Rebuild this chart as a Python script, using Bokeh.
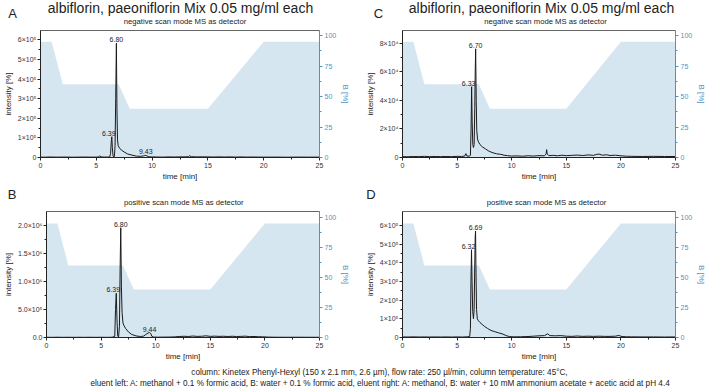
from bokeh.plotting import figure
from bokeh.models import Range1d, LinearAxis, Label, FixedTicker, ColumnDataSource
from bokeh.layouts import column, row
from bokeh.embed import file_html
from bokeh.resources import INLINE
from bokeh.core.properties import value

FONT = "Liberation Sans"
BLUE = "#4f93c4"
FILL = "#d6e6f1"
INK = "#222222"

# ---------------- data ----------------
main_title = "albiflorin, paeoniflorin Mix 0.05 mg/ml each"
sub_neg = "negative scan mode MS as detector"
sub_pos = "positive scan mode MS as detector"
footer_1 = "column: Kinetex Phenyl-Hexyl (150 x 2.1 mm, 2.6 \u00b5m), flow rate: 250 \u00b5l/min, column temperature: 45\u00b0C,"
footer_2 = ("eluent left: A: methanol + 0.1 % formic acid, B: water + 0.1 % formic acid, "
            "eluent right: A: methanol, B: water + 10 mM ammonium acetate + acetic acid at pH 4.4")

x_ticks = [0, 5, 10, 15, 20, 25]
x_minor = [2.5, 7.5, 12.5, 17.5, 22.5]
B_ticks = [0, 25, 50, 75, 100]
B_minor = [12.5, 37.5, 62.5, 87.5]

# gradient (% B)
grad_t = [0, 1, 2, 7, 8, 15, 20, 25]
grad_B = [95, 95, 60, 60, 40, 40, 95, 95]

# Panel A: left eluent, negative mode
A_t = [0.0, 0.4, 0.8, 1.2, 1.6, 2.0, 2.5, 3.0, 3.5, 4.0, 4.5, 5.0, 5.2, 5.3, 5.4, 5.7, 6.0, 6.2,
       6.28, 6.34, 6.39, 6.44, 6.5, 6.56, 6.62, 6.68, 6.74, 6.80, 6.85, 6.9, 6.96, 7.1, 7.3, 7.5,
       7.8, 8.2, 8.6, 9.0, 9.2, 9.35, 9.43, 9.55, 9.7, 9.9, 10.4, 11.0, 11.5, 12.0, 12.5, 13.0,
       13.25, 13.35, 13.5, 14.0, 14.5, 15.0, 15.5, 16.0, 16.5, 17.0, 17.5, 18.0, 18.5, 19.0, 19.5,
       20.0, 21.0, 22.0, 23.0, 24.0, 25.0]
A_i = [2000, 1500, 2500, 2000, 1800, 2200, 2000, 1500, 2000, 2300, 1800, 2000, 3000, 9000, 3000, 2000, 2200, 3000,
       20000, 80000, 106000, 50000, 8000, 3000, 5000, 60000, 300000, 583000, 250000, 90000, 60000, 46000, 36000, 28000,
       18000, 12000, 7000, 6000, 8000, 10000, 10500, 8000, 4000, 3000, 2500, 2000, 3000, 2500, 3000, 3500,
       4000, 9000, 4000, 3000, 3500, 3000, 2500, 3000, 2500, 3000, 2200, 2800, 2000, 2500, 2000,
       1800, 2000, 1500, 2000, 1800, 2000]
A_peak_t = [6.39, 6.80, 9.43]
A_peak_h = [106000, 583000, 10500]
A_yticks = [0, 100000, 200000, 300000, 400000, 500000, 600000]
A_ylabels = ["0", "1\u00d710\u2075", "2\u00d710\u2075", "3\u00d710\u2075", "4\u00d710\u2075", "5\u00d710\u2075", "6\u00d710\u2075"]
A_ymax = 648000

# Panel B: left eluent, positive mode
B_t = [0.0, 0.5, 1.0, 1.5, 2.0, 2.5, 3.0, 3.5, 4.0, 4.5, 5.0, 5.5, 6.0, 6.25, 6.32, 6.39, 6.45, 6.52,
       6.6, 6.68, 6.74, 6.80, 6.86, 6.92, 7.0, 7.1, 7.25, 7.5, 7.8, 8.2, 8.6, 8.9, 9.1, 9.3, 9.44,
       9.55, 9.65, 9.8, 10.2, 10.8, 11.4, 11.8, 12.2, 12.6, 13.0, 13.4, 13.8, 14.2, 14.6, 15.0, 15.4,
       15.8, 16.2, 16.6, 17.0, 17.4, 17.8, 18.2, 18.6, 19.0, 19.4, 19.8, 20.3, 21.0, 22.0, 23.0, 24.0, 25.0]
B_i = [4000, 3000, 5000, 3000, 4000, 3000, 4000, 3000, 4000, 3000, 4000, 3000, 4000, 20000, 500000, 790000, 350000, 30000,
       10000, 200000, 1200000, 1960000, 900000, 450000, 260000, 210000, 160000, 100000, 55000, 28000, 18000, 25000, 55000, 80000, 88000,
       70000, 20000, 8000, 6000, 7000, 8000, 12000, 18000, 22000, 18000, 26000, 20000, 22000, 30000, 20000, 24000,
       20000, 22000, 18000, 22000, 18000, 20000, 24000, 16000, 18000, 14000, 12000, 7000, 5000, 4000, 5000, 4000, 4000]
B_peak_t = [6.39, 6.80, 9.44]
B_peak_h = [790000, 1960000, 88000]
B_yticks = [0, 500000, 1000000, 1500000, 2000000]
B_ylabels = ["0.0", "5.0\u00d710\u2075", "1.0\u00d710\u2076", "1.5\u00d710\u2076", "2.0\u00d710\u2076"]
B_ymax = 2250000

# Panel C: right eluent, negative mode
C_t = [0.0, 0.5, 1.0, 1.5, 2.0, 2.5, 3.0, 3.5, 4.0, 4.5, 5.0, 5.4, 5.7, 5.8, 5.9, 6.1, 6.22, 6.28, 6.33,
       6.38, 6.44, 6.5, 6.56, 6.62, 6.66, 6.70, 6.75, 6.8, 6.87, 6.95, 7.1, 7.3, 7.6, 7.9, 8.2, 8.6, 9.0,
       9.3, 9.6, 10.0, 10.5, 11.0, 11.5, 12.0, 12.5, 13.0, 13.15, 13.2, 13.25, 13.4, 13.8, 14.2, 14.6, 15.0,
       15.5, 16.0, 16.5, 17.0, 17.5, 17.8, 18.0, 18.3, 18.7, 19.0, 19.5, 20.0, 20.5, 21.0, 22.0, 23.0, 24.0, 25.0]
C_i = [600, 500, 700, 600, 800, 600, 700, 600, 700, 600, 800, 700, 1000, 2700, 1000, 900, 1500, 20000, 49500,
       25000, 9000, 7000, 9000, 35000, 60000, 76000, 40000, 19000, 13000, 11000, 9000, 7500, 6000, 4500, 3500, 2600, 2200,
       1600, 1300, 1000, 1100, 900, 1200, 1000, 1300, 1200, 2500, 5500, 2500, 1300, 1500, 1200, 1600, 1300,
       1500, 1700, 1400, 1800, 1500, 2200, 2400, 1600, 1900, 1400, 1600, 1200, 900, 800, 700, 800, 700, 700]
C_peak_t = [6.33, 6.70]
C_peak_h = [49500, 76000]
C_yticks = [0, 20000, 40000, 60000, 80000]
C_ylabels = ["0", "2\u00d710\u2074", "4\u00d710\u2074", "6\u00d710\u2074", "8\u00d710\u2074"]
C_ymax = 88800

# Panel D: right eluent, positive mode
D_t = [0.0, 0.5, 1.0, 1.5, 2.0, 2.5, 3.0, 3.5, 4.0, 4.5, 5.0, 5.5, 5.9, 6.15, 6.22, 6.27, 6.32, 6.37, 6.43,
       6.5, 6.56, 6.62, 6.66, 6.69, 6.73, 6.78, 6.85, 6.95, 7.1, 7.3, 7.5, 7.8, 8.1, 8.4, 8.8, 9.2, 9.5,
       9.8, 10.2, 10.8, 11.4, 12.0, 12.5, 13.0, 13.3, 13.5, 14.0, 14.5, 15.0, 15.5, 16.0, 16.5, 17.0, 17.5,
       18.0, 18.5, 19.0, 19.5, 19.8, 20.1, 20.5, 21.0, 22.0, 23.0, 24.0, 25.0]
D_i = [3000, 2500, 3500, 2500, 3000, 2500, 3000, 2500, 3000, 2500, 3000, 2500, 3500, 5000, 50000, 300000, 470000, 300000, 140000,
       100000, 150000, 400000, 540000, 570000, 350000, 150000, 100000, 90000, 80000, 70000, 60000, 48000, 38000, 32000, 25000, 18000, 10000,
       5000, 3500, 4000, 5000, 7000, 9000, 10000, 20000, 10000, 9000, 10000, 7000, 6000, 8000, 6000, 7000, 6000,
       7000, 6000, 6000, 7000, 11000, 5000, 4000, 3500, 3000, 3000, 2500, 3000]
D_peak_t = [6.32, 6.69]
D_peak_h = [470000, 570000]
D_yticks = [0, 100000, 200000, 300000, 400000, 500000, 600000]
D_ylabels = ["0", "1\u00d710\u2075", "2\u00d710\u2075", "3\u00d710\u2075", "4\u00d710\u2075", "5\u00d710\u2075", "6\u00d710\u2075"]
D_ymax = 675000

B_max_top = 104.2
B_max_bottom = 104.9


def style_axis(ax, color, label_size="8px"):
    ax.axis_line_color = color
    ax.major_tick_line_color = color
    ax.minor_tick_line_color = color
    ax.major_tick_out = 3
    ax.major_tick_in = 0
    ax.minor_tick_out = 2
    ax.minor_tick_in = 0
    ax.major_label_text_color = color if color != INK else "#333333"
    ax.major_label_text_font = FONT
    ax.major_label_text_font_size = "7px"
    ax.axis_label_text_font = FONT
    ax.axis_label_text_font_size = label_size
    ax.axis_label_text_font_style = "normal"
    ax.axis_label_text_color = color


def panel(t, inten, ymax, yticks, ylabels, peaks_t, peaks_h, bmax, width, height, borders):
    p = figure(width=width, height=height, x_range=Range1d(0, 25), y_range=Range1d(0, ymax),
               output_backend="svg", toolbar_location=None, title=None,
               min_border_left=borders[0], min_border_right=borders[1],
               min_border_top=borders[2], min_border_bottom=borders[3])
    p.xgrid.visible = False
    p.ygrid.visible = False
    p.outline_line_color = "#666666"
    p.outline_line_width = 1
    p.background_fill_color = "white"
    p.border_fill_color = "white"

    p.extra_y_ranges = {"B": Range1d(0, bmax)}
    p.varea(x=grad_t, y1=0, y2=grad_B, y_range_name="B", fill_color=FILL, fill_alpha=1.0)
    p.line(t, inten, line_color="#1a1a1a", line_width=1)

    # peak labels (retention times)
    dx = [-3 if (i == 0 and len(peaks_t) > 1 and peaks_t[1] - peaks_t[0] < 1) else 0 for i in range(len(peaks_t))]
    src = ColumnDataSource(dict(x=peaks_t, y=peaks_h, text=["%.2f" % v for v in peaks_t], dx=dx))
    p.text(x="x", y="y", text="text", source=src, x_offset="dx", y_offset=-1,
           text_font=value(FONT), text_font_size="7px", text_align="center",
           text_baseline="bottom", text_color=INK)

    xa = p.xaxis[0]
    xa.ticker = FixedTicker(ticks=x_ticks, minor_ticks=x_minor)
    xa.axis_label = "time [min]"
    style_axis(xa, INK)
    xa.major_label_standoff = 2
    xa.axis_label_standoff = 1

    ya = p.yaxis[0]
    minor = [(yticks[i] + yticks[i + 1]) / 2 for i in range(len(yticks) - 1)]
    ya.ticker = FixedTicker(ticks=yticks, minor_ticks=minor)
    ya.major_label_overrides = {k: v for k, v in zip(yticks, ylabels)}
    ya.axis_label = "intensity [%]"
    style_axis(ya, INK)
    ya.major_label_standoff = 1
    ya.axis_label_standoff = 2

    ra = LinearAxis(y_range_name="B", ticker=FixedTicker(ticks=B_ticks, minor_ticks=B_minor),
                    axis_label="B [%]")
    style_axis(ra, BLUE, "8px")
    ra.major_label_standoff = 2
    ra.axis_label_standoff = 2
    p.add_layout(ra, "right")
    return p


def header(height, items):
    h = figure(width=709, height=height, x_range=Range1d(0, 709), y_range=Range1d(0, height),
               output_backend="svg", toolbar_location=None, title=None,
               x_axis_type=None, y_axis_type=None, min_border=0)
    h.outline_line_color = None
    for (x, y, txt, size) in items:
        h.add_layout(Label(x=x, y=y, text=txt, text_font=FONT, text_font_size=size,
                           text_color=INK, text_align="center", text_baseline="middle"))
    return h


head1 = header(29, [(12, 15.7, "A", "13px"), (180, 22, main_title, "14px"), (184.5, 8, sub_neg, "7.7px"),
                    (378, 15.7, "C", "13px"), (541, 22, main_title, "14px"), (545, 8, sub_neg, "7.7px")])
pA = panel(A_t, A_i, A_ymax, A_yticks, A_ylabels, A_peak_t, A_peak_h, B_max_top, 354, 155, (40, 35, 1, 27))
pC = panel(C_t, C_i, C_ymax, C_yticks, C_ylabels, C_peak_t, C_peak_h, B_max_top, 355, 155, (48, 28, 1, 27))
head2 = header(26, [(11.7, 16, "B", "13px"), (183.3, 7.7, sub_pos, "7.7px"),
                    (370.5, 16, "D", "13px"), (546, 7.7, sub_pos, "7.7px")])
pB = panel(B_t, B_i, B_ymax, B_yticks, B_ylabels, B_peak_t, B_peak_h, B_max_bottom, 354, 153, (40, 35, 1, 24))
pD = panel(D_t, D_i, D_ymax, D_yticks, D_ylabels, D_peak_t, D_peak_h, B_max_bottom, 355, 153, (48, 28, 1, 24))
foot = header(26, [(379, 17.5, footer_1, "8.2px"), (380, 6.5, footer_2, "8.2px")])

layout = column(head1, row(pA, pC), head2, row(pB, pD), foot)
open("out.html", "w").write(file_html(layout, INLINE))
